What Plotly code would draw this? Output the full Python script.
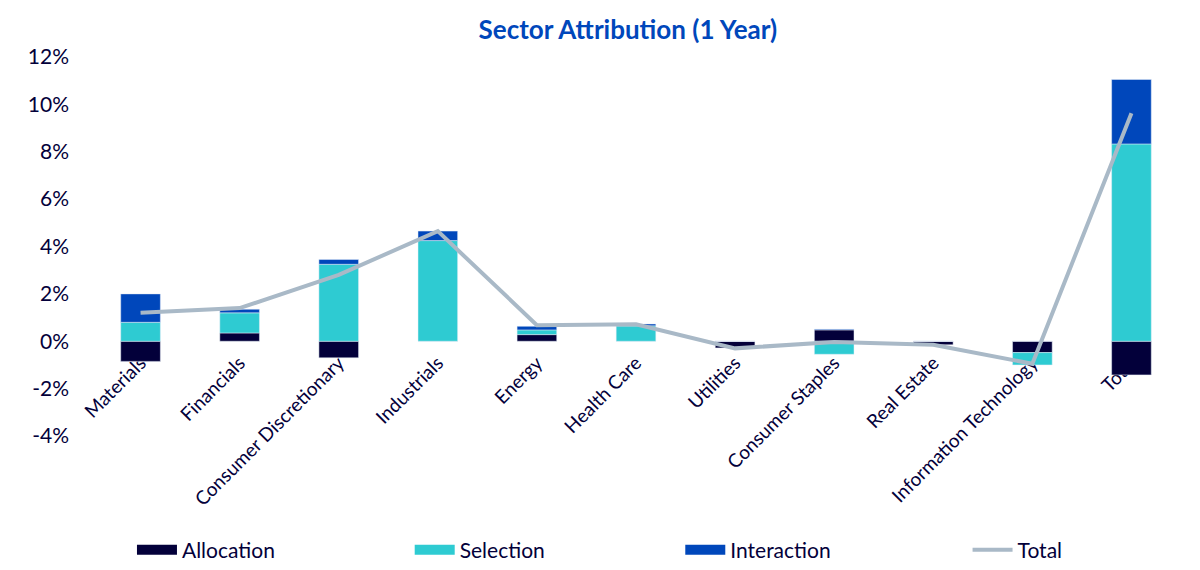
import plotly.graph_objects as go

# Datos (en %)
sectores = ["Materials", "Financials", "Consumer Discretionary", "Industrials", "Energy",
            "Health Care", "Utilities", "Consumer Staples", "Real Estate",
            "Information Technology", "Total"]
allocation = [-0.85, 0.35, -0.70, 0.00, 0.28, 0.00, -0.28, 0.48, -0.15, -0.48, -1.42]
selection = [0.80, 0.85, 3.25, 4.25, 0.20, 0.65, 0.00, -0.55, 0.00, -0.52, 8.33]
interaction = [1.20, 0.15, 0.20, 0.40, 0.15, 0.08, 0.00, 0.03, 0.00, 0.00, 2.72]
total = [1.20, 1.40, 2.80, 4.65, 0.68, 0.72, -0.30, -0.03, -0.15, -0.95, 9.63]

y_ticks = [-4, -2, 0, 2, 4, 6, 8, 10, 12]

azul_oscuro = "#03003a"
turquesa = "#2ecbd2"
azul = "#0047bb"
gris = "#a9b9c7"
fuente = "Lato"

# la página añade 8px de margen al body, así que la figura es 8px más pequeña
W, H = 1192, 562

fig = go.Figure()

series = [("Allocation", allocation, azul_oscuro, "legend"),
          ("Selection", selection, turquesa, "legend2"),
          ("Interaction", interaction, azul, "legend3")]

for nombre, valores, color, ley in series:
    fig.add_trace(go.Bar(x=sectores, y=valores, name=nombre, showlegend=False,
                         marker=dict(color=color)))
    # entrada de leyenda con rectángulo ancho (como en Excel)
    fig.add_trace(go.Scatter(x=[None], y=[None], mode="lines", name=nombre, legend=ley,
                             line=dict(color=color, width=15)))

fig.add_trace(go.Scatter(x=sectores, y=total, mode="lines", name="Total", legend="legend4",
                         line=dict(color=gris, width=4)))

# una leyenda por serie para repartirlas como en el original
leyenda = dict(orientation="h", xref="container", xanchor="left", yref="container",
               y=0.0356, yanchor="middle", font=dict(size=21, color=azul_oscuro),
               itemwidth=40, bgcolor="rgba(0,0,0,0)")

fig.update_layout(
    barmode="relative",
    bargap=0.6,
    width=W,
    height=H,
    margin=dict(l=83, r=19, t=49, b=134),
    plot_bgcolor="white",
    paper_bgcolor="white",
    showlegend=True,
    font=dict(family=fuente, color=azul_oscuro),
    title=dict(text="<b>Sector Attribution (1 Year)</b>", xref="container", x=0.52,
               xanchor="center", yref="container", y=0.961, yanchor="middle",
               font=dict(size=26, color=azul, family=fuente)),
    legend=dict(leyenda, x=0.104),
    legend2=dict(leyenda, x=0.337),
    legend3=dict(leyenda, x=0.564),
    legend4=dict(leyenda, x=0.805),
)

# eje de categorías cruzando en el 0 (como en Excel)
fig.update_xaxes(tickangle=-45, tickfont=dict(size=19), showgrid=False, showline=False,
                 ticks="", automargin=False, anchor="free", position=0.25,
                 layer="below traces", ticklabelstandoff=6)
fig.update_yaxes(range=[-4, 12], tickvals=y_ticks, ticktext=[f"{v}%" for v in y_ticks],
                 tickfont=dict(size=21), showgrid=False, zeroline=False, showline=False,
                 ticklabelstandoff=21, automargin=False)

fig.write_html("out.html")
